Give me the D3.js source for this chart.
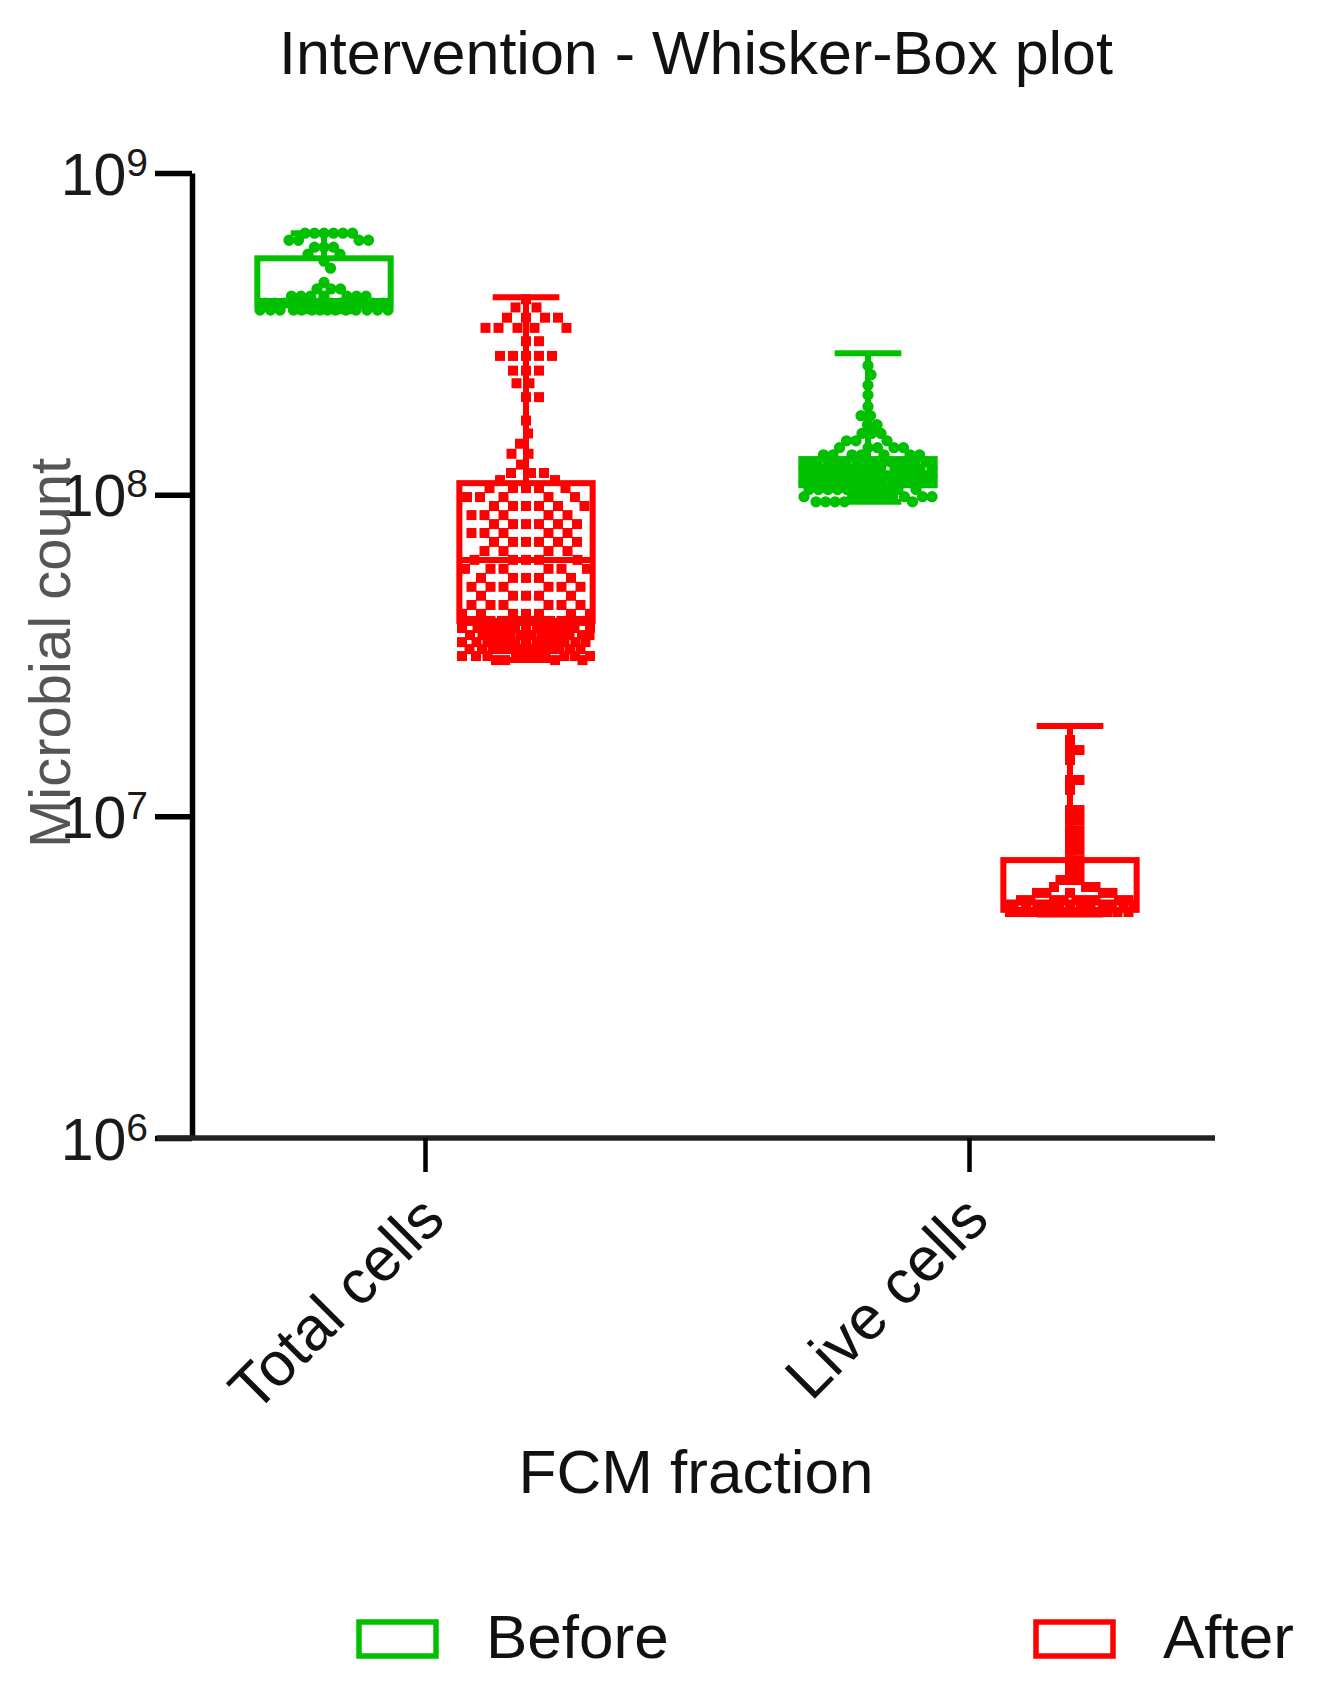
<!DOCTYPE html>
<html>
<head>
<meta charset="utf-8">
<script src="https://cdn.jsdelivr.net/npm/d3@7"></script>
<style>
  body { margin: 0; background: #fff; }
  svg { display: block; }
  text { font-family: "Liberation Sans", Arial, sans-serif; }
</style>
</head>
<body>
<div id="chart"></div>
<script>
// ---------------- data (cell counts in millions) ----------------
var categories = ["Total cells", "Live cells"];
var series = ["Before", "After"];
var seriesColors = ["#00c000", "#ff0000"];
var yTicks = [1e6, 1e7, 1e8, 1e9];

// box & whisker stats, one value per category
var beforeMin = [372, 95], beforeQ1 = [388, 107], beforeMedian = [400, 116], beforeQ3 = [543, 129], beforeMax = [650, 275];
var afterMin = [30.6, 4.95], afterQ1 = [40.5, 5.12], afterMedian = [62.7, 5.4], afterQ3 = [108.6, 7.31], afterMax = [411, 19.1];

// individual samples
var totalBefore = [650, 650, 650, 650, 650, 650, 618, 618, 618, 618, 588, 588, 588, 559, 559, 532, 506,
  457, 436, 436, 436, 414, 414, 414, 414, 414, 414, 414,
  394, 394, 394, 394, 394, 394, 394, 394, 394, 394, 394, 394, 394, 394,
  375, 375, 375, 375, 375, 375, 375, 375, 375, 375, 375, 375, 375, 375];

var totalAfter = [405, 382, 382, 355, 355, 355, 355, 330, 330, 330, 330, 330, 300, 300,
  270, 270, 270, 270, 270, 243, 243, 243, 222, 222, 201, 201, 170, 155, 144, 134, 134, 124,
  116.8, 116.8, 116.8, 111, 111,
  104.8, 104.8, 104.8, 104.8, 104.8, 98.3, 98.3, 98.3, 98.3, 98.3,
  92.2, 92.2, 92.2, 92.2, 92.2, 92.2, 86.4, 86.4, 86.4, 86.4, 86.4,
  81, 81, 81, 81, 81, 81, 76, 76, 76, 76, 76,
  71.3, 71.3, 71.3, 71.3, 71.3, 71.3, 66.8, 66.8, 66.8, 66.8,
  62.7, 62.7, 62.7, 62.7, 62.7, 58.8, 58.8, 58.8, 58.8, 58.8, 58.8,
  55.1, 55.1, 55.1, 55.1, 55.1, 51.7, 51.7, 51.7, 51.7, 51.7, 51.7,
  48.5, 48.5, 48.5, 48.5, 48.5, 45.4, 45.4, 45.4, 45.4, 45.4, 45.4,
  42.6, 42.6, 42.6, 42.6, 42.6, 42.6, 42.6,
  40.5, 40.5, 40.5, 40.5, 40.5, 40.5, 40.5, 40.5, 40.5, 40.5, 40.5, 40.5,
  38.5, 38.5, 38.5, 38.5, 38.5, 38.5, 38.5, 38.5, 38.5, 38.5, 38.5, 38.5, 38.5,
  36.6, 36.6, 36.6, 36.6, 36.6, 36.6, 36.6, 36.6, 36.6, 36.6, 36.6, 36.6, 36.6,
  34.8, 34.8, 34.8, 34.8, 34.8, 34.8, 34.8, 34.8, 34.8, 34.8, 34.8, 34.8, 34.8,
  33.1, 33.1, 33.1, 33.1, 33.1, 33.1, 33.1, 33.1, 33.1, 33.1, 33.1, 33.1,
  31.5, 31.5, 31.5, 31.5, 31.5, 31.5, 31.5, 31.5, 31.5, 31.5, 30.6, 30.6, 30.6, 30.6];

var liveBefore = [252, 236, 219, 204, 188, 176, 176, 165, 165, 155, 155, 155, 147, 147, 147,
  140, 140, 140, 140, 140, 133, 133, 133, 133, 133, 133, 133,
  126.5, 126.5, 126.5, 126.5, 126.5, 126.5, 126.5, 126.5, 126.5, 126.5, 126.5, 126.5, 126.5, 126.5,
  120.3, 120.3, 120.3, 120.3, 120.3, 120.3, 120.3, 120.3, 120.3, 120.3, 120.3, 120.3, 120.3, 120.3,
  114.5, 114.5, 114.5, 114.5, 114.5, 114.5, 114.5, 114.5, 114.5, 114.5, 114.5, 114.5, 114.5, 114.5,
  109, 109, 109, 109, 109, 109, 109, 109, 109, 109, 109, 109, 109, 109,
  103.7, 103.7, 103.7, 103.7, 103.7, 103.7, 103.7, 103.7, 103.7, 103.7, 103.7,
  98.6, 98.6, 98.6, 98.6, 98.6, 98.6, 98.6, 98.6, 98.6, 95, 95, 95, 95, 95];

var liveAfter = [17.27, 16.07, 16.07, 14.96, 12.97, 12.97, 12.08, 10.46, 10.46, 9.74, 9.74, 9.06, 9.06,
  8.44, 8.44, 7.86, 7.86, 7.31, 7.31, 6.81, 6.81, 6.34, 6.34, 6.34, 6.03, 6.03, 6.03,
  5.78, 5.78, 5.78, 5.78, 5.78, 5.49, 5.49, 5.49, 5.49, 5.49, 5.49, 5.49, 5.49, 5.49,
  5.26, 5.26, 5.26, 5.26, 5.26, 5.26, 5.26, 5.26, 5.26, 5.26, 5.26, 5.26, 5.26, 5.26,
  5.04, 5.04, 5.04, 5.04, 5.04, 5.04, 5.04, 5.04, 5.04, 5.04, 5.04, 5.04, 5.04, 5.04];

var samples = [[totalBefore, totalAfter], [liveBefore, liveAfter]];
var stats = [
  [beforeMin, beforeQ1, beforeMedian, beforeQ3, beforeMax],
  [afterMin, afterQ1, afterMedian, afterQ3, afterMax]
];

// ---------------- layout ----------------
var width = 1324, height = 1692;
var M = 1e6;

var svg = d3.select("#chart").append("svg")
  .attr("width", width)
  .attr("height", height);

var y = d3.scaleLog().domain([1e6, 1e9]).range([1138, 173]);
var x = d3.scalePoint().domain(categories).range([425, 969]);
var xSub = d3.scaleBand().domain(series).range([-202, 202]);
var boxW = xSub.bandwidth() * 0.66;
var capW = boxW / 2;
// spacing between dot centres in the scatter, per [category][series]
var dotGap = [[9.5, 13], [9.5, 9.5]];

// title
svg.append("text")
  .attr("x", 696).attr("y", 74)
  .attr("text-anchor", "middle")
  .attr("font-size", 61)
  .attr("fill", "#111")
  .text("Intervention - Whisker-Box plot");

// y axis
var yAxis = svg.append("g")
  .attr("transform", "translate(192,0)")
  .call(d3.axisLeft(y).tickValues(yTicks).tickSize(37).tickSizeOuter(0).tickFormat(""));
yAxis.select(".domain").attr("stroke", "#000").attr("stroke-width", 5.5);
yAxis.selectAll(".tick line").attr("stroke", "#000").attr("stroke-width", 5.5);
yAxis.selectAll(".tick text").remove();
yAxis.selectAll(".tick").append("text")
  .attr("x", -44)
  .attr("dy", "0.36em")
  .attr("text-anchor", "end")
  .attr("fill", "#1a1a1a")
  .attr("font-size", 59)
  .each(function (d) {
    var t = d3.select(this);
    t.append("tspan").text("10");
    t.append("tspan").attr("dy", -19).attr("font-size", 39).text(Math.round(Math.log10(d)));
  });

// x axis
var xAxis = svg.append("g")
  .attr("transform", "translate(0,1138)")
  .call(d3.axisBottom(x).tickSize(34).tickFormat(""));
xAxis.select(".domain").attr("d", "M157,0H1215").attr("stroke", "#222").attr("stroke-width", 5.5);
xAxis.selectAll(".tick line").attr("stroke", "#000").attr("stroke-width", 4.5);
xAxis.selectAll(".tick").append("text")
  .attr("transform", "translate(22,84) rotate(-45)")
  .attr("text-anchor", "end")
  .attr("fill", "#111")
  .attr("font-size", 62)
  .text(function (d) { return d; });

// axis titles
svg.append("text")
  .attr("x", 696).attr("y", 1493)
  .attr("text-anchor", "middle")
  .attr("font-size", 62)
  .attr("fill", "#111")
  .text("FCM fraction");

svg.append("text")
  .attr("transform", "translate(70,653) rotate(-90)")
  .attr("text-anchor", "middle")
  .attr("font-size", 58)
  .attr("fill", "#555")
  .text("Microbial count");

// ---------------- beeswarm placement of points ----------------
function swarm(values, cx, maxHalf, dd) {
  var placed = [];
  values.forEach(function (v) {
    var py = y(v * M);
    var best = 0, bestDist = -1;
    for (var k = 0; k <= maxHalf * 4; k++) {
      var off = (k % 2 ? 1 : -1) * Math.ceil(k / 2) * 0.5;
      if (Math.abs(off) > maxHalf) break;
      var minD = Infinity;
      for (var i = 0; i < placed.length; i++) {
        var dx = placed[i].x - (cx + off), dy = placed[i].y - py;
        var dist = Math.sqrt(dx * dx + dy * dy);
        if (dist < minD) minD = dist;
      }
      if (minD >= dd) { best = off; bestDist = minD; break; }
      if (minD > bestDist) { bestDist = minD; best = off; }
    }
    placed.push({ x: cx + best, y: py, v: v });
  });
  return placed;
}

categories.forEach(function (cat, ci) {
  series.forEach(function (s, si) {
    var cx = x(cat) + xSub(s) + xSub.bandwidth() / 2;
    var col = seriesColors[si];
    var g = svg.append("g").attr("class", "group");
    var pts = swarm(samples[ci][si], cx, 64, dotGap[ci][si]);

    // points: circles for Before, squares for After
    g.selectAll("path.pt")
      .data(pts)
      .enter().append("path")
      .attr("class", "pt")
      .attr("transform", function (d) { return "translate(" + d.x + "," + d.y + ")"; })
      .attr("d", d3.symbol().type(si === 0 ? d3.symbolCircle : d3.symbolSquare).size(100))
      .attr("fill", col);

    var st = stats[si];
    var mn = st[0][ci] * M, q1 = st[1][ci] * M, md = st[2][ci] * M, q3 = st[3][ci] * M, mx = st[4][ci] * M;

    // whiskers
    g.append("line").attr("x1", cx).attr("x2", cx).attr("y1", y(mx)).attr("y2", y(q3))
      .attr("stroke", col).attr("stroke-width", 6);
    g.append("line").attr("x1", cx).attr("x2", cx).attr("y1", y(q1)).attr("y2", y(mn))
      .attr("stroke", col).attr("stroke-width", 6);
    g.append("line").attr("x1", cx - capW / 2).attr("x2", cx + capW / 2).attr("y1", y(mx)).attr("y2", y(mx))
      .attr("stroke", col).attr("stroke-width", 6);
    g.append("line").attr("x1", cx - capW / 2).attr("x2", cx + capW / 2).attr("y1", y(mn)).attr("y2", y(mn))
      .attr("stroke", col).attr("stroke-width", 6);

    // box + median
    g.append("rect")
      .attr("x", cx - boxW / 2).attr("width", boxW)
      .attr("y", y(q3)).attr("height", y(q1) - y(q3))
      .attr("fill", "none").attr("stroke", col).attr("stroke-width", 6);
    g.append("line").attr("x1", cx - boxW / 2).attr("x2", cx + boxW / 2).attr("y1", y(md)).attr("y2", y(md))
      .attr("stroke", col).attr("stroke-width", 6);
  });
});

// ---------------- legend ----------------
var legendX = [359, 1036];
var legend = svg.selectAll("g.legend")
  .data(series)
  .enter().append("g")
  .attr("class", "legend")
  .attr("transform", function (d, i) { return "translate(" + legendX[i] + ",1622)"; });
legend.append("rect")
  .attr("width", 77).attr("height", 34)
  .attr("fill", "none")
  .attr("stroke", function (d, i) { return seriesColors[i]; })
  .attr("stroke-width", 5.5);
legend.append("text")
  .attr("x", 127).attr("y", 36)
  .attr("font-size", 62)
  .attr("fill", "#111")
  .text(function (d) { return d; });
</script>
</body>
</html>
